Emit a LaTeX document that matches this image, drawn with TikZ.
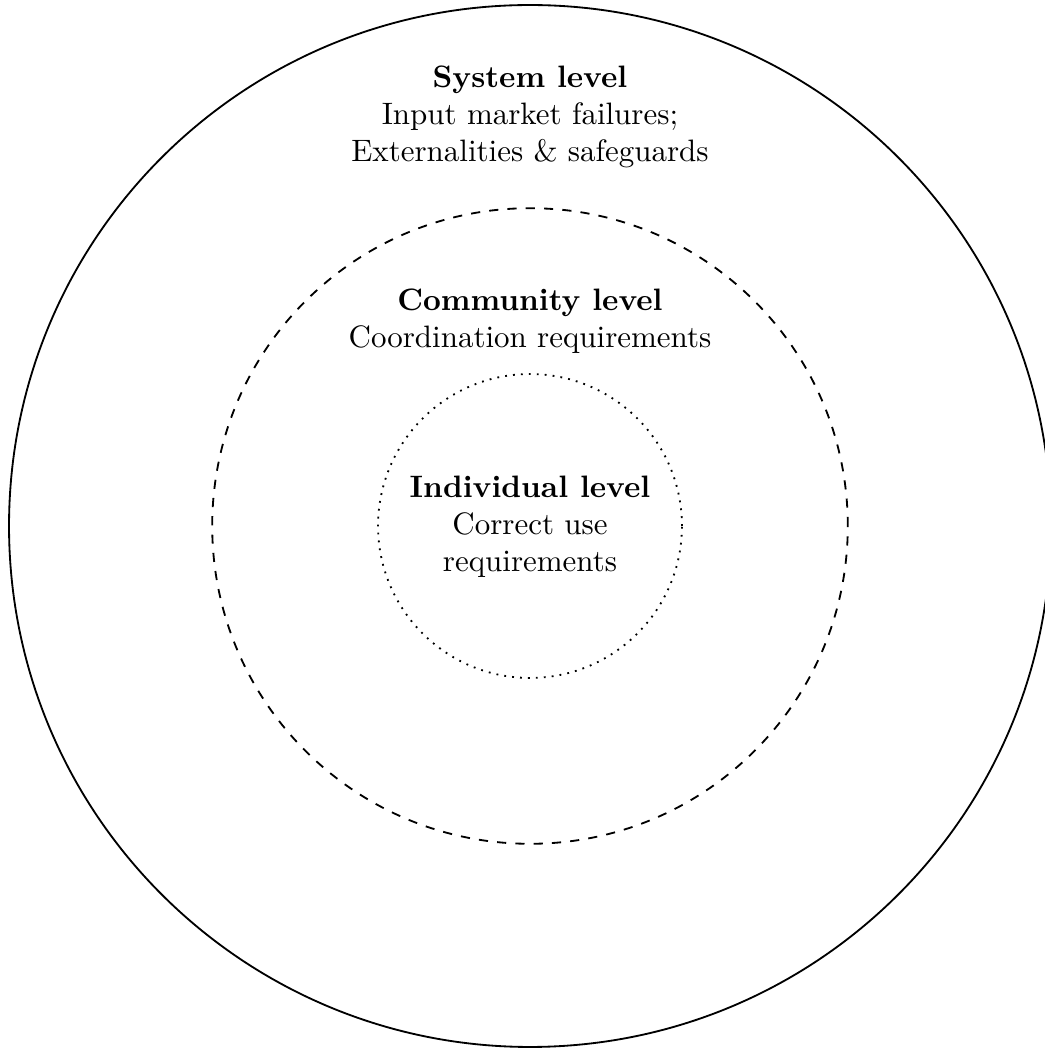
\documentclass[tikz,border=0pt]{standalone}
\usetikzlibrary{positioning}

\begin{document}
\begin{tikzpicture}
\useasboundingbox (-6.104, -6.035) rectangle (5.931, 6.058);

\draw[semithick] (0, 0) circle (6);
\draw[semithick, dashed] (0, 0) circle (3.66);
\draw[semithick, dotted] (0, 0) circle (1.75);

\node[align=center, scale=1.015] (system) at (0, 4.71) {\textbf{System level}\\Input market failures;\\Externalities \& safeguards};
\node[align=center, scale=1.015] (community) at (0, 2.36) {\textbf{Community level}\\Coordination requirements};
\node[align=center, scale=1.015] (individual) at (0, -0.01) {\textbf{Individual level}\\Correct use\\requirements};

\end{tikzpicture}
\end{document}
